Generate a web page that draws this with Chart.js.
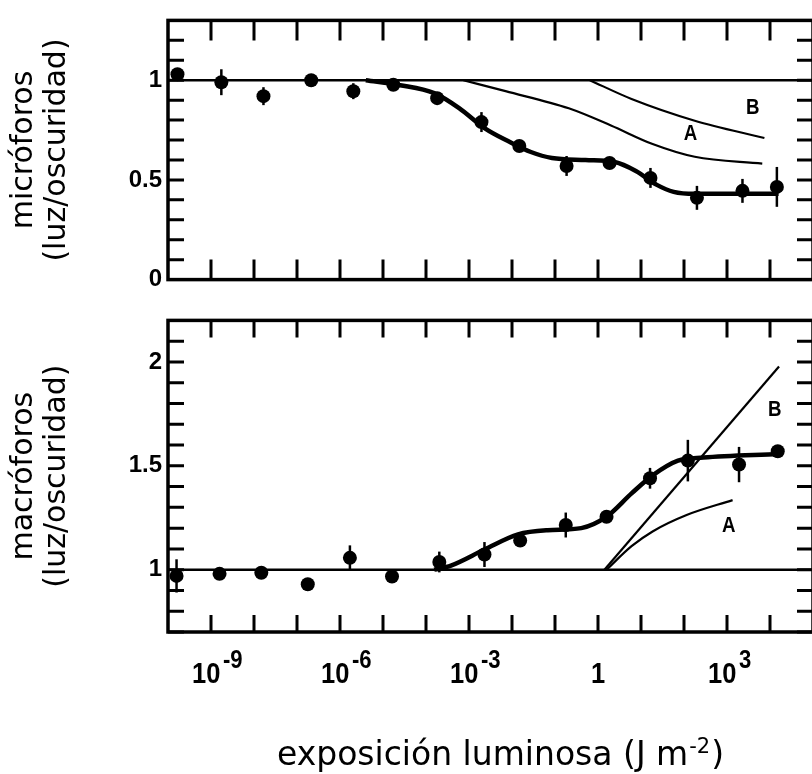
<!DOCTYPE html>
<html>
<head>
<meta charset="utf-8">
<script src="https://cdn.jsdelivr.net/npm/chart.js@4"></script>
<style>
  html, body { margin: 0; padding: 0; background: #fff; overflow: hidden; }
  #wrap { position: relative; width: 812px; height: 774px; overflow: hidden; }
  #wrap canvas { position: absolute; left: 0; }
</style>
</head>
<body>
<div id="wrap">
  <canvas id="microChart" width="820" height="300" style="top:0"></canvas>
  <canvas id="macroChart" width="820" height="474" style="top:300px"></canvas>
</div>
<script>
// x axis (log, J m-2)
const decadeTicks = [1e-9, 1e-8, 1e-7, 1e-6, 1e-5, 1e-4, 1e-3, 1e-2, 1e-1, 1, 1e1, 1e2, 1e3, 1e4];
const labelValues = [1e-9, 1e-6, 1e-3, 1, 1e3];
const labelBases = ["10", "10", "10", "1", "10"];
const labelExps = ["-9", "-6", "-3", "", "3"];

// micróforos panel
const microX = [1.66e-10, 1.74e-9, 1.66e-8, 2.14e-7, 2.04e-6, 1.74e-5, 1.82e-4, 1.95e-3, 1.48e-2, 0.186, 1.86, 16.6, 200, 2290, 14450];
const microY = [1.03, 0.99, 0.92, 1.0, 0.945, 0.977, 0.91, 0.79, 0.67, 0.57, 0.585, 0.51, 0.41, 0.445, 0.465];
const microErr = [0, 0.065, 0.045, 0.03, 0.04, 0.03, 0.03, 0.05, 0.03, 0.05, 0.03, 0.05, 0.06, 0.06, 0.1];
const microFitX = [3.98e-6, 2.51e-5, 1.55e-4, 5.89e-4, 2.29e-3, 8.91e-3, 2.75e-2, 8.51e-2, 0.513, 2.45, 7.59, 23.4, 57.5, 178, 15850];
const microFitY = [1.0, 0.975, 0.935, 0.86, 0.76, 0.69, 0.64, 0.61, 0.6, 0.59, 0.545, 0.475, 0.44, 0.43, 0.43];
const microAX = [7.41e-4, 7.08e-3, 0.209, 2.0, 18.6, 178, 6607];
const microAY = [1.0, 0.945, 0.859, 0.773, 0.68, 0.616, 0.582];
const microBX = [0.646, 6.03, 178, 7413];
const microBY = [1.0, 0.906, 0.797, 0.71];
const microLetterX = [3980, 141];
const microLetterY = [0.86, 0.73];

// macróforos panel
const macroX = [1.58e-10, 1.58e-9, 1.48e-8, 1.78e-7, 1.7e-6, 1.62e-5, 2.04e-4, 2.29e-3, 1.55e-2, 0.178, 1.58, 16.2, 123, 1905, 15140];
const macroY = [0.97, 0.98, 0.985, 0.93, 1.057, 0.967, 1.037, 1.073, 1.14, 1.215, 1.255, 1.44, 1.525, 1.506, 1.57];
const macroErr = [0.08, 0.02, 0.02, 0.02, 0.06, 0.03, 0.05, 0.06, 0.03, 0.06, 0.03, 0.05, 0.1, 0.085, 0.03];
const macroFitX = [1.55e-4, 3.8e-4, 2.29e-3, 1.38e-2, 6.76e-2, 0.407, 1.58, 6.03, 18.6, 72.4, 282, 15850];
const macroFitY = [1.0, 1.02, 1.097, 1.17, 1.19, 1.2, 1.255, 1.367, 1.454, 1.525, 1.54, 1.557];
const macroAX = [1.58, 6.03, 18.6, 115, 1349];
const macroAY = [1.0, 1.113, 1.184, 1.263, 1.335];
const macroBX = [1.41, 16218];
const macroBY = [1.0, 1.978];
const macroLetterX = [12880, 1096];
const macroLetterY = [1.77, 1.21];

const letterText = ["B", "A"];
const refX = [1e-10, 1e5];
const refY = [1, 1];

const pts = (xs, ys) => xs.map((v, i) => ({ x: v, y: ys[i] }));

const TITLE_FONT = '"DejaVu Sans", sans-serif';
const TICK_FONT = '"Liberation Sans", Arial, sans-serif';

// frame, inward ticks, error bars and A/B labels
function makeDecor(errX, errY, err, letX, letY, tickLen, bottomLabels) {
  return {
    id: "decor",
    afterDatasetsDraw(chart) {
      const { ctx, chartArea: a, scales: { x, y } } = chart;
      ctx.save();
      ctx.strokeStyle = "#000";
      ctx.fillStyle = "#000";

      ctx.lineWidth = 2.5;
      errX.forEach((v, i) => {
        if (!err[i]) return;
        const px = x.getPixelForValue(v);
        ctx.beginPath();
        ctx.moveTo(px, y.getPixelForValue(errY[i] + err[i]));
        ctx.lineTo(px, y.getPixelForValue(errY[i] - err[i]));
        ctx.stroke();
      });

      ctx.lineWidth = 3;
      x.ticks.forEach((t) => {
        const px = x.getPixelForValue(t.value);
        ctx.beginPath();
        ctx.moveTo(px, a.top);
        ctx.lineTo(px, a.top + tickLen);
        ctx.moveTo(px, a.bottom);
        ctx.lineTo(px, a.bottom - tickLen);
        ctx.stroke();
      });
      y.ticks.forEach((t) => {
        const py = y.getPixelForValue(t.value);
        ctx.beginPath();
        ctx.moveTo(a.left, py);
        ctx.lineTo(a.left + 16, py);
        ctx.moveTo(a.right, py);
        ctx.lineTo(a.right - 16, py);
        ctx.stroke();
      });
      ctx.lineWidth = 3.5;
      ctx.strokeRect(a.left, a.top, a.right - a.left, a.bottom - a.top);

      ctx.textBaseline = "middle";
      letX.forEach((v, i) => {
        const px = x.getPixelForValue(v);
        const py = y.getPixelForValue(letY[i]);
        ctx.save();
        ctx.translate(px, py);
        ctx.scale(0.85, 1);
        ctx.font = "bold 22px " + TICK_FONT;
        ctx.textAlign = "center";
        ctx.fillText(letterText[i], 0, 0);
        ctx.restore();
      });

      if (bottomLabels) {
        // condensed bold tick labels with raised exponents
        labelValues.forEach((v, i) => {
          const px = x.getPixelForValue(v);
          ctx.save();
          ctx.translate(px, a.bottom);
          ctx.scale(0.85, 1);
          ctx.textBaseline = "alphabetic";
          ctx.font = "bold 30px " + TICK_FONT;
          if (!labelExps[i]) {
            ctx.textAlign = "center";
            ctx.fillText(labelBases[i], 0, 51);
          } else {
            ctx.textAlign = "right";
            ctx.fillText(labelBases[i], 11, 51);
            ctx.font = "bold 26px " + TICK_FONT;
            ctx.textAlign = "left";
            ctx.fillText(labelExps[i], 14, 36);
          }
          ctx.restore();
        });

        // x axis title with superscript
        const main = "exposición luminosa (J m";
        ctx.textBaseline = "alphabetic";
        ctx.font = "33px " + TITLE_FONT;
        const w1 = ctx.measureText(main).width;
        const w3 = ctx.measureText(")").width;
        ctx.font = "21px " + TITLE_FONT;
        const w2 = ctx.measureText("-2").width;
        const cx = (a.left + a.right) / 2 + 10;
        const sx = cx - (w1 + w2 + w3 + 2) / 2;
        const base = a.bottom + 133;
        ctx.textAlign = "left";
        ctx.font = "33px " + TITLE_FONT;
        ctx.fillText(main, sx, base);
        ctx.font = "21px " + TITLE_FONT;
        ctx.fillText("-2", sx + w1 + 1, base - 12);
        ctx.font = "33px " + TITLE_FONT;
        ctx.fillText(")", sx + w1 + w2 + 2, base);
      }
      ctx.restore();
    },
  };
}

function makeChart(id, opt) {
  const ctx = document.getElementById(id).getContext("2d");
  return new Chart(ctx, {
    type: "scatter",
    data: {
      datasets: [
        {
          data: pts(opt.px, opt.py),
          pointRadius: 7,
          pointHoverRadius: 7,
          pointBackgroundColor: "#000",
          pointBorderWidth: 0,
          showLine: false,
        },
        {
          data: pts(opt.fx, opt.fy),
          showLine: true,
          borderColor: "#000",
          borderWidth: 4.5,
          pointRadius: 0,
          cubicInterpolationMode: "monotone",
        },
        {
          data: pts(opt.ax, opt.ay),
          showLine: true,
          borderColor: "#000",
          borderWidth: 2.2,
          pointRadius: 0,
          cubicInterpolationMode: "monotone",
        },
        {
          data: pts(opt.bx, opt.by),
          showLine: true,
          borderColor: "#000",
          borderWidth: 2.2,
          pointRadius: 0,
          cubicInterpolationMode: "monotone",
        },
        {
          data: pts(refX, refY),
          showLine: true,
          borderColor: "#000",
          borderWidth: 2.5,
          pointRadius: 0,
        },
      ],
    },
    options: {
      responsive: false,
      animation: false,
      events: [],
      layout: { padding: opt.padding },
      plugins: { legend: { display: false }, tooltip: { enabled: false } },
      scales: {
        x: {
          type: "logarithmic",
          min: 1e-10,
          max: 1e5,
          grid: { display: false, drawTicks: false },
          border: { display: false },
          ticks: { display: false },
          afterBuildTicks: (scale) => {
            scale.ticks = decadeTicks.map((v) => ({ value: v }));
          },
          afterFit: (scale) => {
            scale.height = opt.xHeight;
          },
        },
        y: {
          min: opt.ymin,
          max: opt.ymax,
          grid: { display: false, drawTicks: false },
          border: { display: false },
          ticks: {
            stepSize: 0.1,
            maxTicksLimit: 30,
            autoSkip: false,
            padding: 6,
            color: "#000",
            font: { family: TICK_FONT, size: 24, weight: "bold" },
            callback: (v) => {
              const r = Math.round(v * 10) / 10;
              return Math.abs(r * 2 - Math.round(r * 2)) < 1e-6 ? String(r) : "";
            },
          },
          title: {
            display: true,
            text: opt.title,
            color: "#000",
            font: { family: TITLE_FONT, size: 30, lineHeight: 1.1 },
            padding: { top: 8, bottom: 0 },
          },
          afterFit: (scale) => {
            scale.width = 168;
          },
        },
      },
    },
    plugins: [makeDecor(opt.px, opt.py, opt.err, opt.lx, opt.ly, opt.tickLen, opt.bottomLabels)],
  });
}

makeChart("microChart", {
  px: microX, py: microY, err: microErr,
  fx: microFitX, fy: microFitY,
  ax: microAX, ay: microAY, bx: microBX, by: microBY,
  lx: microLetterX, ly: microLetterY,
  ymin: 0, ymax: 1.3,
  title: ["micróforos", "(luz/oscuridad)"],
  padding: { top: 16, bottom: 7, left: 0, right: 4 },
  xHeight: 0, tickLen: 20, bottomLabels: false,
});

makeChart("macroChart", {
  px: macroX, py: macroY, err: macroErr,
  fx: macroFitX, fy: macroFitY,
  ax: macroAX, ay: macroAY, bx: macroBX, by: macroBY,
  lx: macroLetterX, ly: macroLetterY,
  ymin: 0.7, ymax: 2.2,
  title: ["macróforos", "(luz/oscuridad)"],
  padding: { top: 12, bottom: 0, left: 0, right: 4 },
  xHeight: 142, tickLen: 17, bottomLabels: true,
});
</script>
</body>
</html>
